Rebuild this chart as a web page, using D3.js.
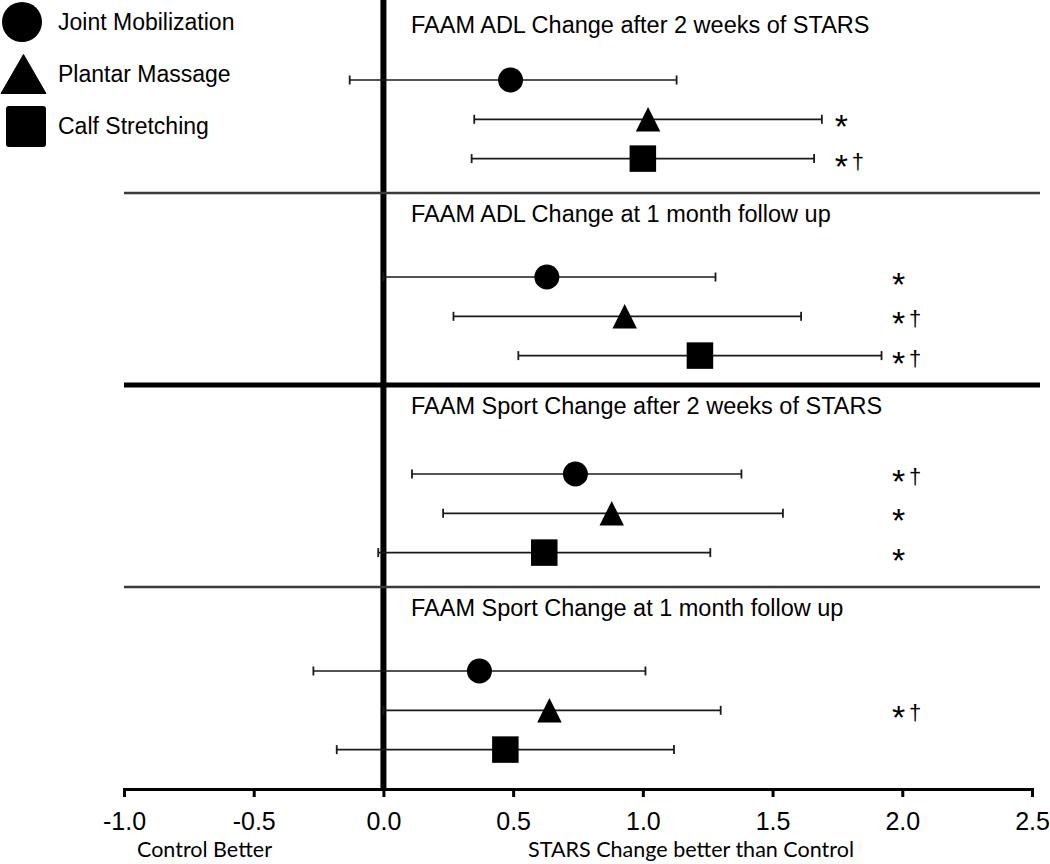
<!DOCTYPE html>
<html>
<head>
<meta charset="utf-8">
<script src="https://cdn.jsdelivr.net/npm/d3@7"></script>
<style>
  html, body { margin: 0; padding: 0; background: #fff; }
  svg { display: block; }
</style>
</head>
<body>
<svg id="chart" width="1050" height="864"></svg>
<script>
// ---------------- DATA ----------------
const groups = [
  "FAAM ADL Change after 2 weeks of STARS",
  "FAAM ADL Change at 1 month follow up",
  "FAAM Sport Change after 2 weeks of STARS",
  "FAAM Sport Change at 1 month follow up"
];
const seriesNames = ["Joint Mobilization", "Plantar Massage", "Calf Stretching"];

// point estimates per group (order of groups)
const jointMobilizationMean  = [0.49, 0.63, 0.74, 0.37];
const plantarMassageMean     = [1.02, 0.93, 0.88, 0.64];
const calfStretchingMean     = [1.00, 1.22, 0.62, 0.47];

// lower 95% CI
const jointMobilizationLower = [-0.13, 0.00, 0.11, -0.27];
const plantarMassageLower    = [0.35, 0.27, 0.23, 0.00];
const calfStretchingLower    = [0.34, 0.52, -0.02, -0.18];

// upper 95% CI
const jointMobilizationUpper = [1.13, 1.28, 1.38, 1.01];
const plantarMassageUpper    = [1.69, 1.61, 1.54, 1.30];
const calfStretchingUpper    = [1.66, 1.92, 1.26, 1.12];

// significance marks
const jointMobilizationSig = ["", "*", "*†", ""];
const plantarMassageSig    = ["*", "*†", "*", "*†"];
const calfStretchingSig    = ["*†", "*†", "*", ""];

const xTickValues = [-1.0, -0.5, 0.0, 0.5, 1.0, 1.5, 2.0, 2.5];
const xTickLabels = ["-1.0", "-0.5", "0.0", "0.5", "1.0", "1.5", "2.0", "2.5"];
const leftAxisCaption = "Control Better";
const rightAxisCaption = "STARS Change better than Control";

// ---------------- BUILD ROWS ----------------
const means  = [jointMobilizationMean, plantarMassageMean, calfStretchingMean];
const lowers = [jointMobilizationLower, plantarMassageLower, calfStretchingLower];
const uppers = [jointMobilizationUpper, plantarMassageUpper, calfStretchingUpper];
const sigs   = [jointMobilizationSig, plantarMassageSig, calfStretchingSig];

const rows = [];
groups.forEach((g, gi) => {
  seriesNames.forEach((s, si) => {
    rows.push({ group: g, gi, series: s, si,
      mean: means[si][gi], lower: lowers[si][gi], upper: uppers[si][gi], sig: sigs[si][gi] });
  });
});

// ---------------- LAYOUT ----------------
const svg = d3.select("#chart");
const axisY = 789;
const FONT = "'Liberation Sans', Arial, sans-serif";
const CAPTION_FONT = "Lato, 'Open Sans', sans-serif";

const x = d3.scaleLinear().domain([-1, 2.5]).range([124, 1032]);
const yGroup = d3.scaleBand().domain(groups).range([0, 788]);
const yRow = d3.scalePoint().domain(seriesNames).range([80, 158.6]);
const rowY = d => yGroup(d.group) + yRow(d.series);

// annotation column (data units) per group
const sigColumn = [1.74, 1.96, 1.96, 1.96];

// ---------------- ZERO LINE ----------------
svg.append("line")
  .attr("x1", x(0)).attr("x2", x(0))
  .attr("y1", 0).attr("y2", axisY)
  .attr("stroke", "#000").attr("stroke-width", 6);

// ---------------- DIVIDERS ----------------
const dividerInfo = groups.slice(1).map((g, i) => ({
  y: yGroup(g) - (i === 1 ? 9 : 4),
  thick: i === 1
}));
svg.selectAll("line.divider").data(dividerInfo).join("line")
  .attr("class", "divider")
  .attr("x1", x(-1)).attr("x2", x(2.5) + 8)
  .attr("y1", d => d.y).attr("y2", d => d.y)
  .attr("stroke", d => d.thick ? "#000" : "#3a3a3a")
  .attr("stroke-width", d => d.thick ? 5 : 2.7);

// ---------------- GROUP TITLES ----------------
svg.selectAll("text.gtitle").data(groups).join("text")
  .attr("class", "gtitle")
  .attr("x", 411)
  .attr("y", (g, i) => i === 0 ? 33 : dividerInfo[i - 1].y + 29)
  .attr("font-family", FONT).attr("font-size", 23.5).attr("fill", "#000")
  .text(g => g);

// ---------------- ERROR BARS ----------------
const bars = svg.append("g");
bars.selectAll("line.ci").data(rows).join("line")
  .attr("class", "ci")
  .attr("x1", d => x(d.lower)).attr("x2", d => x(d.upper))
  .attr("y1", rowY).attr("y2", rowY)
  .attr("stroke", "#1a1a1a").attr("stroke-width", 1.7);
["lower", "upper"].forEach(k => {
  bars.selectAll("line.cap-" + k).data(rows).join("line")
    .attr("class", "cap-" + k)
    .attr("x1", d => x(d[k])).attr("x2", d => x(d[k]))
    .attr("y1", d => rowY(d) - 4.5).attr("y2", d => rowY(d) + 4.5)
    .attr("stroke", "#1a1a1a").attr("stroke-width", 1.8);
});

// ---------------- MARKERS ----------------
function markerPath(si, size) {
  const h = size / 2;
  if (si === 1) return `M${-h},${h} L${h},${h} L0,${-h} Z`;
  return `M${-h},${-h} L${h},${-h} L${h},${h} L${-h},${h} Z`;
}
const marks = svg.append("g");
marks.selectAll("circle").data(rows.filter(r => r.si === 0)).join("circle")
  .attr("cx", d => x(d.mean)).attr("cy", rowY).attr("r", 12.5).attr("fill", "#000");
marks.selectAll("path.tri").data(rows.filter(r => r.si === 1)).join("path")
  .attr("class", "tri")
  .attr("transform", d => `translate(${x(d.mean)},${rowY(d)})`)
  .attr("d", markerPath(1, 24.5)).attr("fill", "#000");
marks.selectAll("path.sq").data(rows.filter(r => r.si === 2)).join("path")
  .attr("class", "sq")
  .attr("transform", d => `translate(${x(d.mean)},${rowY(d)})`)
  .attr("d", markerPath(2, 26.5)).attr("fill", "#000");

// ---------------- SIGNIFICANCE MARKS ----------------
const sigRows = rows.filter(r => r.sig);
const sigG = svg.append("g");
sigG.selectAll("text.ast").data(sigRows).join("text")
  .attr("class", "ast")
  .attr("x", d => x(sigColumn[d.gi]))
  .attr("y", d => rowY(d) + 19)
  .attr("font-family", FONT).attr("font-size", 34).attr("fill", "#000")
  .text("*");
sigG.selectAll("text.dag").data(sigRows.filter(r => r.sig.includes("†"))).join("text")
  .attr("class", "dag")
  .attr("x", d => x(sigColumn[d.gi]) + 17)
  .attr("y", d => rowY(d) + 10)
  .attr("font-family", FONT).attr("font-size", 22).attr("fill", "#000")
  .text("†");

// ---------------- X AXIS ----------------
const xAxis = d3.axisBottom(x)
  .tickValues(xTickValues)
  .tickFormat((d, i) => xTickLabels[i])
  .tickSize(8).tickSizeOuter(8).tickPadding(15);
const ax = svg.append("g").attr("transform", `translate(0,${axisY})`).call(xAxis);
ax.select(".domain").attr("stroke", "#000").attr("stroke-width", 3);
ax.selectAll(".tick line").attr("stroke", "#000").attr("stroke-width", 3);
ax.selectAll(".tick text").attr("font-family", FONT).attr("font-size", 25).attr("fill", "#000");

// axis captions
svg.append("text").attr("x", 204.5).attr("y", 857).attr("text-anchor", "middle")
  .attr("font-family", CAPTION_FONT).attr("font-size", 20.5).attr("fill", "#000")
  .attr("textLength", 135).attr("lengthAdjust", "spacingAndGlyphs")
  .text(leftAxisCaption);
svg.append("text").attr("x", 691).attr("y", 857).attr("text-anchor", "middle")
  .attr("font-family", CAPTION_FONT).attr("font-size", 20.5).attr("fill", "#000")
  .attr("textLength", 326).attr("lengthAdjust", "spacingAndGlyphs")
  .text(rightAxisCaption);

// ---------------- LEGEND ----------------
const yLegend = d3.scalePoint().domain(seriesNames).range([22, 126]);
const leg = svg.append("g");
leg.append("circle").attr("cx", 22).attr("cy", yLegend(seriesNames[0])).attr("r", 20).attr("fill", "#000");
leg.append("path")
  .attr("transform", `translate(23.5,${yLegend(seriesNames[1])})`)
  .attr("d", "M-22.5,19.5 L22.5,19.5 L0,-19.5 Z")
  .attr("fill", "#000").attr("stroke", "#000").attr("stroke-width", 1).attr("stroke-linejoin", "round");
leg.append("rect")
  .attr("x", 6).attr("y", yLegend(seriesNames[2]) - 20)
  .attr("width", 40).attr("height", 41).attr("rx", 3)
  .attr("fill", "#000");
leg.selectAll("text.legtext").data(seriesNames).join("text")
  .attr("class", "legtext")
  .attr("x", 58).attr("y", d => yLegend(d) + 8)
  .attr("font-family", FONT).attr("font-size", 23).attr("fill", "#000")
  .text(d => d);
</script>
</body>
</html>
